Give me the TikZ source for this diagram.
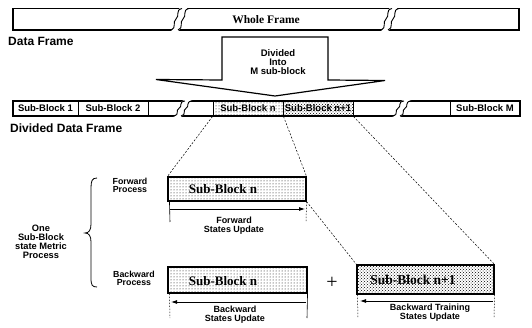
\documentclass[tikz,border=0pt]{standalone}
\usepackage{fontspec}
\setmainfont{Liberation Serif}
\setsansfont{Liberation Sans}
\usetikzlibrary{patterns,arrows.meta}
\begin{document}
\begin{tikzpicture}[x=1pt,y=-1pt,
  lab/.style={font=\sffamily\bfseries\fontsize{9}{9}\selectfont, align=center, inner sep=0pt},
  biglab/.style={font=\sffamily\bfseries\fontsize{12}{12}\selectfont, inner sep=0pt, anchor=west},
  sbl/.style={draw, line width=1pt, inner sep=0pt, minimum height=15pt, minimum width=70pt,
              font=\sffamily\bfseries\fontsize{9.5}{9.5}\selectfont},
  serl/.style={font=\rmfamily\bfseries\fontsize{13}{13}\selectfont, inner sep=0pt},
  bigbox/.style={draw, line width=1.1pt, inner sep=0pt},
  lightdots/.style={pattern=dots, pattern color=black},
  densedots/.style={pattern=crosshatch dots, pattern color=black},
  dsh/.style={line width=0.5pt, dash pattern=on 2pt off 1.6pt},
  tick/.style={line width=0.6pt},
  dtick/.style={line width=0.5pt, dash pattern=on 1.5pt off 1.5pt},
  arr/.style={line width=0.8pt, -{Latex[length=6pt,width=4pt]}},
  brk/.pic={
    \begin{scope}[yscale=#1/21.5]
    \fill[white] (-0.8,1.5) .. controls (6,-2) and (1,-8) .. (5,-11) .. controls (9,-14) and (4,-20) .. (10.5,-23)
       -- (18.5,-23) .. controls (11,-20) and (16,-14) .. (12,-11) .. controls (8,-8) and (13,-2) .. (6.2,1.5) -- cycle;
    \draw[line width=0.9pt] (0,0) .. controls (6,-2) and (1,-8) .. (5,-11) .. controls (9,-14) and (4,-20) .. (11,-21.5);
    \draw[line width=0.9pt] (7,0) .. controls (13,-2) and (8,-8) .. (12,-11) .. controls (16,-14) and (11,-20) .. (18,-21.5);
    \end{scope}
  }]
\useasboundingbox (0,0) rectangle (532,328);

% ---- whole frame
\node[bigbox, minimum width=506pt, minimum height=21.5pt,
      font=\rmfamily\bfseries\fontsize{11.5}{12}\selectfont] (whole) at (266,19.25) {Whole Frame};
\pic at (171,30) {brk=21.5};
\pic at (381,30) {brk=21.5};
\node[biglab] (dflab) at (8,41) {Data Frame};

% ---- divide arrow
\draw[line width=1.2pt, fill=white] (222,37) -- (328,37) -- (328,80) -- (385,80.5)
   -- (275,96) -- (156,79.5) -- (222,80) -- cycle;
\node[lab, font=\sffamily\bfseries\fontsize{9.5}{8.8}\selectfont] (divt) at (278,62) {Divided\\Into\\M sub-block};

% ---- divided frame row
\draw[line width=1.1pt] (13,101) rectangle (520,116);
\node[sbl, minimum width=65pt] (sb1) at (45.5,108.5) {Sub-Block 1};
\node[sbl] (sb2) at (113,108.5) {Sub-Block 2};
\node[sbl, lightdots] (sbn) at (248,108.5) {Sub-Block n};
\node[sbl, densedots] (sbn1) at (318,108.5) {Sub-Block n+1};
\node[sbl] (sbM) at (485,108.5) {Sub-Block M};
\pic at (174,116) {brk=15};
\pic at (393,116) {brk=15};
\node[biglab] (ddflab) at (10,128.5) {Divided Data Frame};

% ---- forward box
\node[bigbox, lightdots, minimum width=138pt, minimum height=24pt] (fwd) at (237,189) {};
\node[serl] (fwdt) at (223,189) {Sub-Block n};
\coordinate (fl) at (170,209);
\coordinate (fr) at (305,209);
\coordinate (flb) at (170,222);
\coordinate (frb) at (306,222);
\draw[tick] (fwd.south west) ++(2,0) -- (flb);
\draw[dtick] (fwd.south east) -- (frb);
\draw[arr] (fl) -- (fr);
\node[lab] (fwdl) at (234,226) {Forward\\States Update};

% ---- backward box
\node[bigbox, lightdots, minimum width=139pt, minimum height=26pt] (bwd) at (237.5,280) {};
\node[serl] (bwdt) at (223,281) {Sub-Block n};
\coordinate (bl) at (171,302);
\coordinate (br) at (306,302);
\coordinate (blb) at (170,318);
\coordinate (brb) at (307,318);
\draw[dtick] (bwd.south west) ++(2,0) -- (blb);
\draw[tick] (bwd.south east) -- (brb);
\draw[arr] (br) -- (bl);
\node[lab] (bwdl) at (235,314.5) {Backward\\States Update};

% ---- plus
\node[inner sep=0pt, font=\rmfamily\fontsize{20}{20}\selectfont] (plus) at (332,283) {+};

% ---- backward training box
\node[bigbox, densedots, minimum width=137pt, minimum height=29pt] (trn) at (425.5,279.5) {};
\node[serl, font=\rmfamily\bfseries\fontsize{13.5}{13.5}\selectfont] (trnt) at (413,280) {Sub-Block n+1};
\coordinate (tl) at (360,301);
\coordinate (tr) at (493,301);
\coordinate (tlb) at (358,318);
\coordinate (trb) at (494,318);
\draw[dtick] (trn.south west) ++(1,0) -- (tlb);
\draw[dtick] (trn.south east) -- (trb);
\draw[arr] (tr) -- (tl);
\node[lab] (trnl) at (430,313) {Backward Training\\States Update};

% ---- dashed zoom lines
\draw[dsh] (sbn.south west) -- (fwd.north west);
\draw[dsh] (sbn.south east) -- (fwd.north east);
\draw[dsh] (fwd.south east) -- (trn.north west);
\draw[dsh] (sbn1.south east) -- (trn.north east);

% ---- left labels and brace
\node[lab, font=\sffamily\bfseries\fontsize{8.8}{7.8}\selectfont] (fp) at (130,185) {Forward\\Process};
\node[lab, font=\sffamily\bfseries\fontsize{8.8}{7.8}\selectfont] (bp) at (134,278) {Backward\\Process};
\node[lab, font=\sffamily\bfseries\fontsize{9.3}{9}\selectfont] (one) at (41,241.5) {One\\Sub-Block\\state Metric\\Process};
\draw[line width=0.8pt] (97,178) .. controls (92,178) and (91,181) .. (91,188) -- (91,224)
   .. controls (91,230) and (89,233) .. (85,233) .. controls (89,233) and (91,236) .. (91,242)
   -- (91,278) .. controls (91,285) and (92,287) .. (97,287);
\end{tikzpicture}
\end{document}
